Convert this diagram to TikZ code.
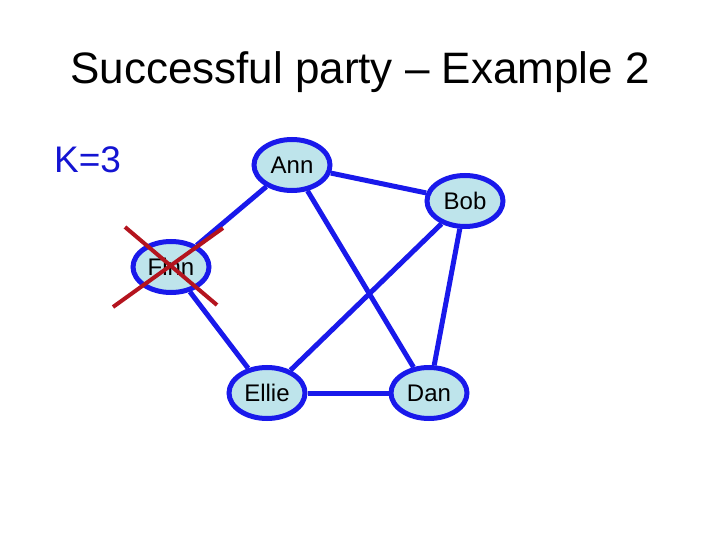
\documentclass[tikz,border=0pt]{standalone}
\usepackage{fontspec}
\setmainfont{Liberation Sans}
\usetikzlibrary{shapes.geometric}

\definecolor{edgeblue}{RGB}{25,25,235}
\definecolor{nodefill}{RGB}{190,228,235}
\definecolor{kblue}{RGB}{20,20,210}
\definecolor{crossred}{RGB}{180,20,30}

\tikzset{
	guest/.style={ellipse, draw=edgeblue, fill=nodefill, line width=5bp,
		minimum width=76bp, minimum height=51bp, inner sep=0pt,
		font=\fontsize{24bp}{28bp}\selectfont},
	friend/.style={draw=edgeblue, line width=5bp},
	cross/.style={draw=crossred, line width=4bp}
}

\begin{document}
\begin{tikzpicture}[x=1bp,y=-1bp]

	\useasboundingbox (0,0) rectangle (720,540);

	% ---- texts

	\node[anchor=base, inner sep=0pt, font=\fontsize{44bp}{50bp}\selectfont] (title) at (360,84) {Successful party -- Example 2};
	\node[anchor=base west, inner sep=0pt, text=kblue, font=\fontsize{37bp}{42bp}\selectfont] (k) at (54,173) {K=3};

	% ---- guests

	\node[guest] (ann) at (292,165) {Ann};
	\node[guest] (bob) at (465,201) {Bob};
	\node[guest] (finn) at (171,267) {Finn};
	\node[guest] (ellie) at (267,393) {Ellie};
	\node[guest] (dan) at (429,393) {Dan};

	% ---- friendships

	\foreach \a/\b in {ann/bob, ann/finn, ann/dan, bob/ellie, bob/dan, finn/ellie, ellie/dan}
		{ \draw[friend] (\a) -- (\b); }

	% ---- Finn is out

	\coordinate (X1) at (125,227);
	\coordinate (X2) at (217,305);
	\coordinate (X3) at (113,307);
	\coordinate (X4) at (223,228);
	\draw[cross] (X1) -- (X2);
	\draw[cross] (X3) -- (X4);

\end{tikzpicture}
\end{document}
